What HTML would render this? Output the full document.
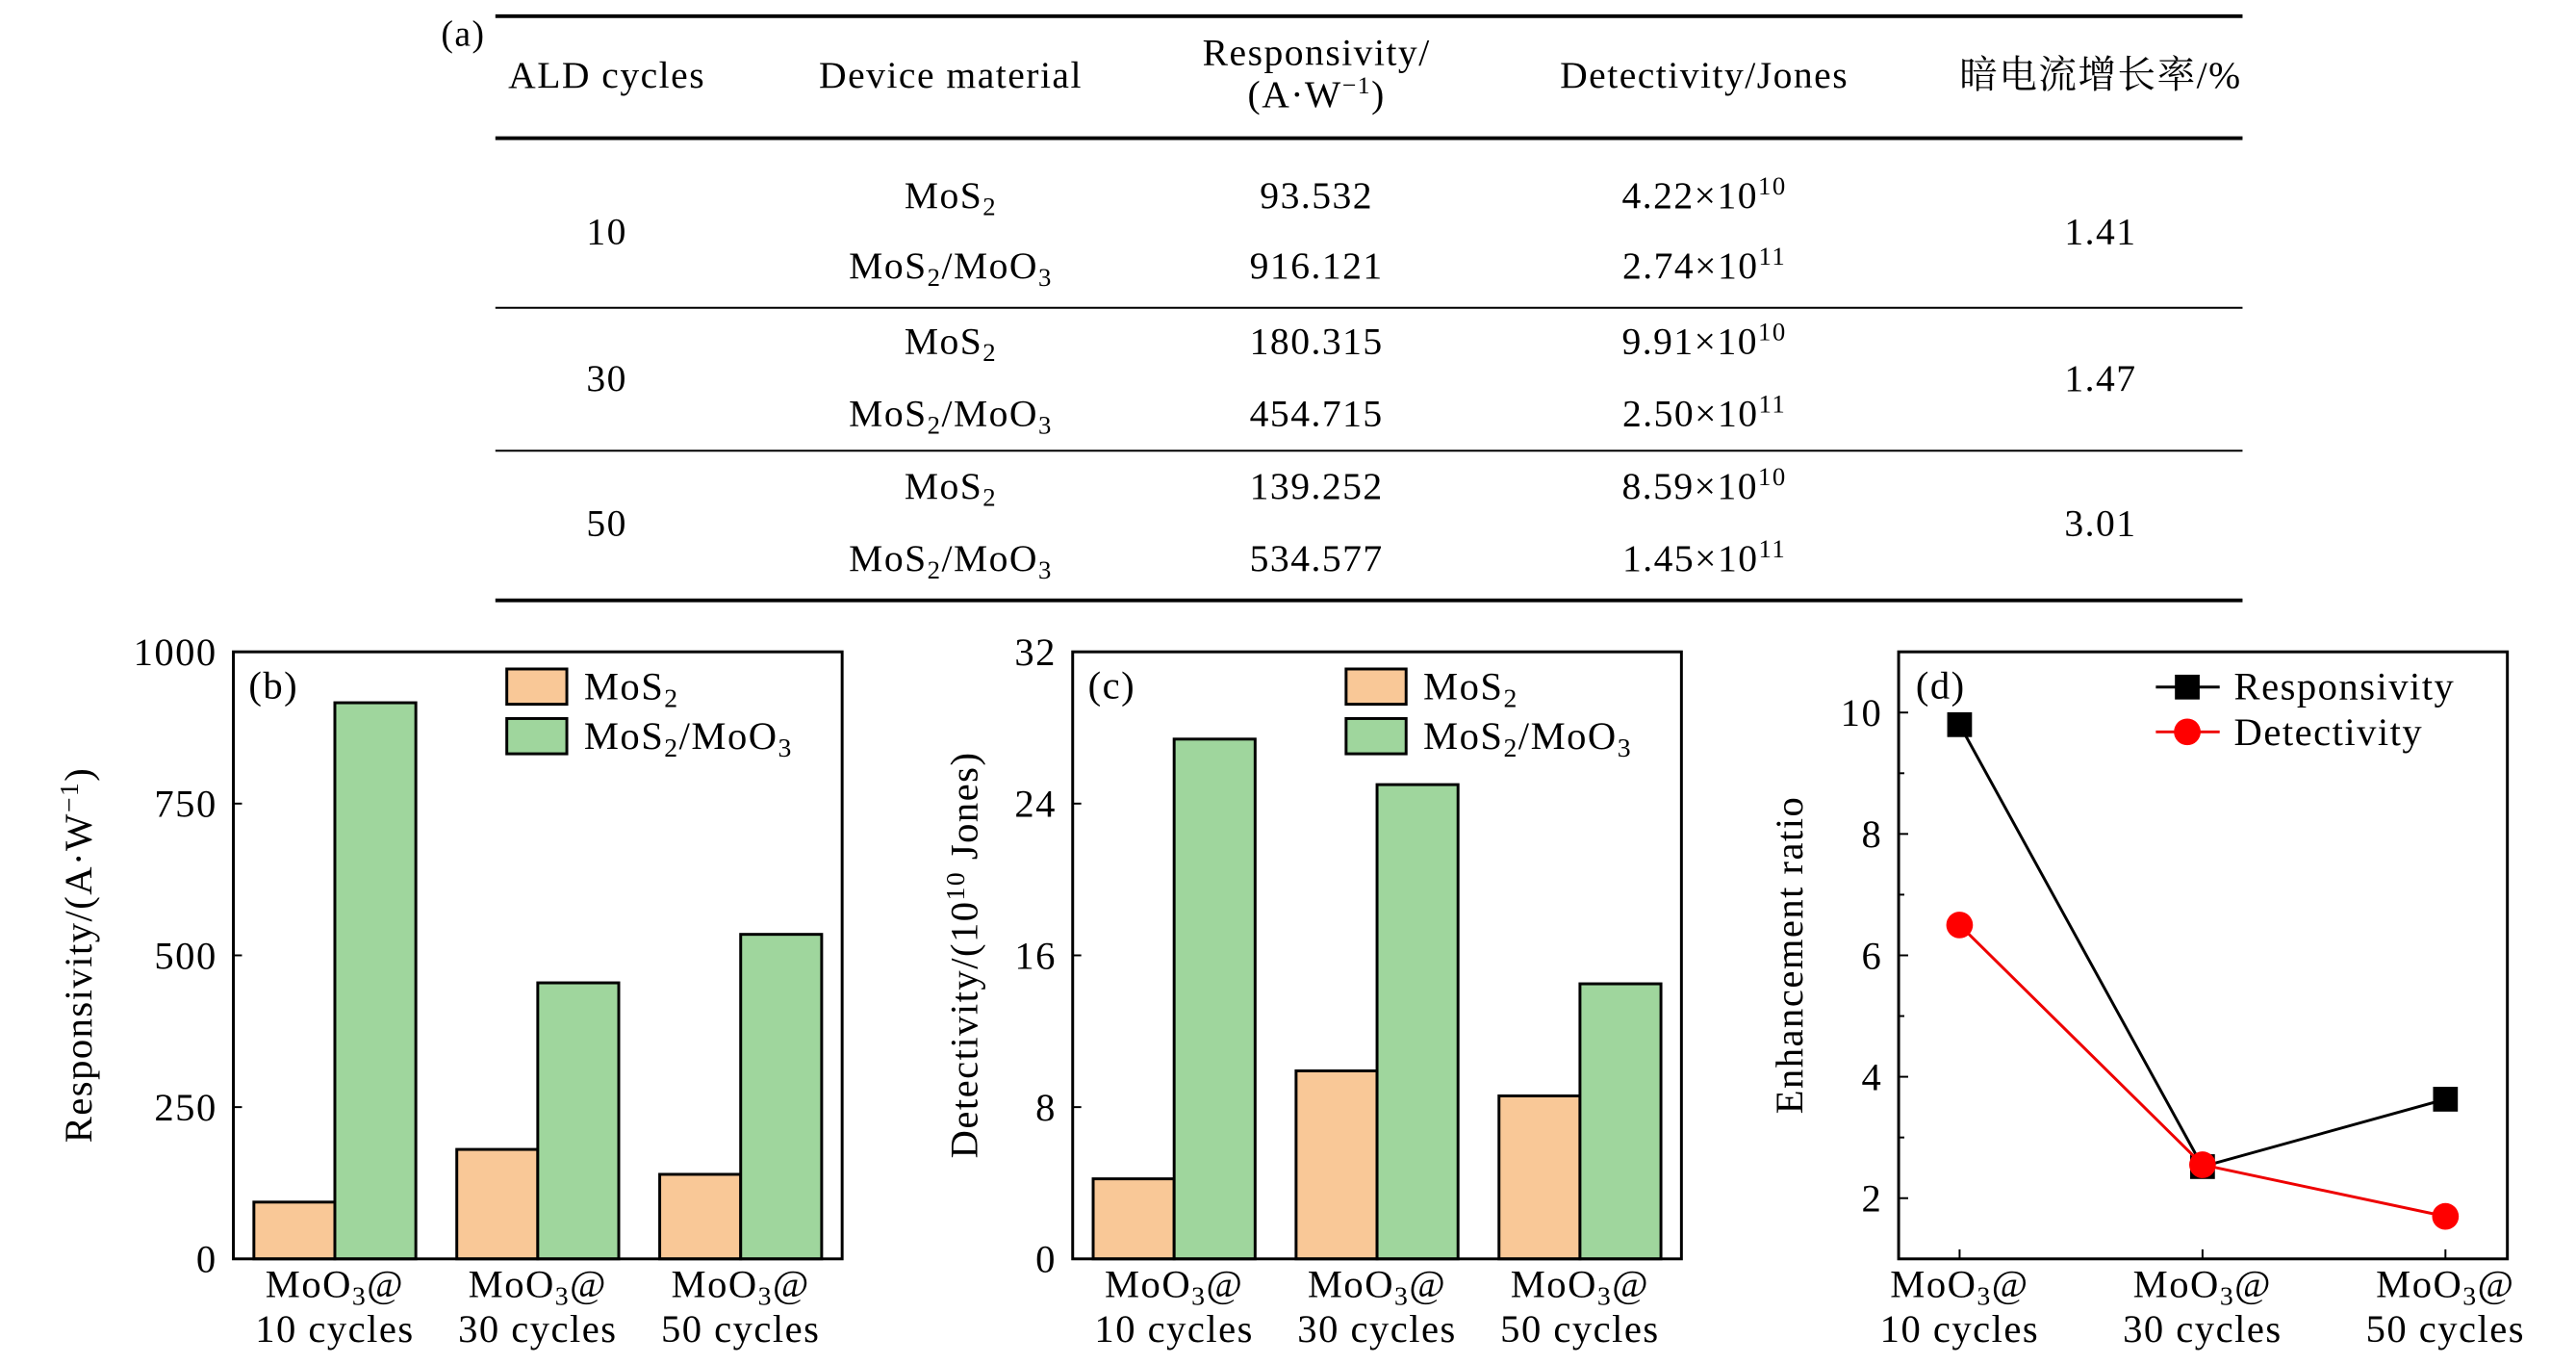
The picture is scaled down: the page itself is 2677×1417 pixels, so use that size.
<!DOCTYPE html>
<html><head><meta charset="utf-8"><style>
html,body{margin:0;padding:0;background:#fff}
svg{display:block}
text{font-family:"Liberation Serif","Noto Serif CJK SC",serif;fill:#000;letter-spacing:1.5px}
</style></head><body>
<svg id="fig" width="2677" height="1417" viewBox="0 0 2677 1417" xmlns="http://www.w3.org/2000/svg">
<g transform="scale(0.99)">
<g id="table" font-size="40">
<text x="463" y="48" font-size="38">(a)</text>
<line x1="520" y1="17" x2="2354" y2="17" stroke="#000" stroke-width="4"/>
<line x1="520" y1="145" x2="2354" y2="145" stroke="#000" stroke-width="4"/>
<line x1="520" y1="323" x2="2354" y2="323" stroke="#000" stroke-width="2"/>
<line x1="520" y1="473" x2="2354" y2="473" stroke="#000" stroke-width="2"/>
<line x1="520" y1="630" x2="2354" y2="630" stroke="#000" stroke-width="4"/>
<g text-anchor="middle">
<text x="637" y="92">ALD cycles</text>
<text x="998" y="92">Device material</text>
<text x="1382" y="68">Responsivity/</text>
<text x="1382" y="112">(A·W<tspan dy="-14" font-size="26">−1</tspan><tspan dy="14">)</tspan></text>
<text x="1789" y="92">Detectivity/Jones</text>
<text x="2205" y="92">暗电流增长率/%</text>
</g>
<g id="rows" text-anchor="middle"></g>
</g>
<g id="chartB"></g>
<g id="chartC"></g>
<g id="chartD"></g>
</g>
</svg>
<script>
const NS="http://www.w3.org/2000/svg";
const tblCycles=["10","30","50"];
const tblResp=[["93.532","916.121"],["180.315","454.715"],["139.252","534.577"]];
const tblDet=[["4.22","10"],["2.74","11"],["9.91","10"],["2.50","11"],["8.59","10"],["1.45","11"]];
const tblDark=["1.41","1.47","3.01"];
const categories=["10 cycles","30 cycles","50 cycles"];
const respMoS2=[93.532,180.315,139.252];
const respHetero=[916.121,454.715,534.577];
const detMoS2=[4.22,9.91,8.59];
const detHetero=[27.4,25.0,14.5];
const ratioResp=[9.8,2.52,3.63];
const ratioDet=[6.5,2.55,1.7];
const ticksB=[0,250,500,750,1000];
const ticksC=[0,8,16,24,32];
const ticksD=[2,4,6,8,10];
const FS=41;

function el(tag,attrs,parent,txt){const e=document.createElementNS(NS,tag);for(const k in attrs)e.setAttribute(k,attrs[k]);if(txt!==undefined)e.textContent=txt;parent.appendChild(e);return e;}

const rows=document.getElementById('rows');
const rowY=[[206,280],[359,435],[511,587]];
for(let i=0;i<3;i++){
  const mid=(rowY[i][0]+rowY[i][1])/2+13;
  let t=el('text',{x:637,y:mid},rows,tblCycles[i]);
  
  
  t=el('text',{x:2205,y:mid},rows,tblDark[i]);
  
  
  for(let j=0;j<2;j++){
    const y=rowY[i][j]+12;
    const m=el('text',{x:998,y:y},rows);
    
    
    m.innerHTML= j==0?'MoS<tspan dy="8" font-size="27">2</tspan>':'MoS<tspan dy="8" font-size="27">2</tspan><tspan dy="-8">/MoO</tspan><tspan dy="8" font-size="27">3</tspan>';
    t=el('text',{x:1382,y:y},rows,tblResp[i][j]);
    
    
    const d=tblDet[i*2+j];
    const dt=el('text',{x:1789,y:y},rows);
    
    
    dt.innerHTML=d[0]+'×10<tspan dy="-14" font-size="27">'+d[1]+'</tspan>';
  }
}

function axisFrame(g,L,R,T,B){const r=el('rect',{x:L,y:T,width:R-L,height:B-T,fill:'none',stroke:'#000','stroke-width':3},g);}
function xLabels(g,xs){
  categories.forEach((c,i)=>{
    const a=el('text',{x:xs[i],y:1361,'text-anchor':'middle','font-size':FS},g);
    a.innerHTML='MoO<tspan dy="8" font-size="28">3</tspan><tspan dy="-8">@</tspan>';
    
    
    const b=el('text',{x:xs[i],y:1408,'text-anchor':'middle','font-size':FS},g,c);
    
    
  });
}

function barChart(id,L,R,ymax,ticks,s1,s2,label,ytitleX,ytitleHTML){
  const g=document.getElementById(id);
  const T=684,B=1321;
  const ys=v=>B-(v/ymax)*(B-T);
  const step=(R-L)/3, bw=85;
  const xs=[];
  for(let i=0;i<3;i++){
    const c=L+step*(i+0.5); xs.push(c);
    let r=el('rect',{x:c-bw,y:ys(s1[i]),width:bw,height:B-ys(s1[i]),fill:'#f9c897',stroke:'#000','stroke-width':3},g);
    
    
    r=el('rect',{x:c,y:ys(s2[i]),width:bw,height:B-ys(s2[i]),fill:'#9fd69d',stroke:'#000','stroke-width':3},g);
    
    
  }
  axisFrame(g,L,R,T,B);
  ticks.forEach(t=>{
    el('line',{x1:L,x2:L+9,y1:ys(t),y2:ys(t),stroke:'#000','stroke-width':2},g);
    const tx=el('text',{x:L-17,y:ys(t)+14,'text-anchor':'end','font-size':FS},g,String(t));
    
    
  });
  xLabels(g,xs);
  const pl=el('text',{x:L+16,y:733,'font-size':FS},g,label);
  
  
  const yt=el('text',{x:0,y:0,'text-anchor':'middle','font-size':FS,transform:`translate(${ytitleX},1002) rotate(-90)`},g);
  yt.innerHTML=ytitleHTML;
  
  
  const lx=L+287;
  let lb=el('rect',{x:lx,y:702,width:63,height:37,fill:'#f9c897',stroke:'#000','stroke-width':3},g);
  
  
  lb=el('rect',{x:lx,y:754,width:63,height:37,fill:'#9fd69d',stroke:'#000','stroke-width':3},g);
  
  
  let lt=el('text',{x:lx+81,y:734,'font-size':FS},g);
  lt.innerHTML='MoS<tspan dy="8" font-size="28">2</tspan>';
  
  
  lt=el('text',{x:lx+81,y:786,'font-size':FS},g);
  lt.innerHTML='MoS<tspan dy="8" font-size="28">2</tspan><tspan dy="-8">/MoO</tspan><tspan dy="8" font-size="28">3</tspan>';
  
  
}
barChart('chartB',245,884,1000,ticksB,respMoS2,respHetero,'(b)',96,'Responsivity/(A·W<tspan dy="-14" font-size="28">−1</tspan><tspan dy="14">)</tspan>');
barChart('chartC',1126,1765,32,ticksC,detMoS2,detHetero,'(c)',1026,'Detectivity/(10<tspan dy="-14" font-size="28">10</tspan><tspan dy="14"> Jones)</tspan>');

(function(){
  const g=document.getElementById('chartD');
  const L=1993,R=2632,T=684,B=1321,ymin=1,ymax=11;
  const ys=v=>B-(v-ymin)/(ymax-ymin)*(B-T);
  const xs=[0,1,2].map(i=>2057+i*255);
  axisFrame(g,L,R,T,B);
  for(let v=1;v<=11;v++){
    const len=v%2==0?10:6;
    el('line',{x1:L,x2:L+len,y1:ys(v),y2:ys(v),stroke:'#000','stroke-width':2},g);
  }
  ticksD.forEach(t=>{
    const tx=el('text',{x:L-17,y:ys(t)+14,'text-anchor':'end','font-size':FS},g,String(t));
    
    
  });
  xs.forEach(x=>el('line',{x1:x,x2:x,y1:B,y2:B-10,stroke:'#000','stroke-width':2},g));
  xLabels(g,xs);
  let p=el('polyline',{points:ratioResp.map((v,i)=>xs[i]+','+ys(v)).join(' '),fill:'none',stroke:'#000','stroke-width':3},g);
  
  
  ratioResp.forEach((v,i)=>{
    const r=el('rect',{x:xs[i]-13,y:ys(v)-13,width:26,height:26,fill:'#000'},g);
    
    
  });
  p=el('polyline',{points:ratioDet.map((v,i)=>xs[i]+','+ys(v)).join(' '),fill:'none',stroke:'#e00','stroke-width':3},g);
  
  
  ratioDet.forEach((v,i)=>{
    const c=el('circle',{cx:xs[i],cy:ys(v),r:14,fill:'#f00'},g);
    
    
  });
  const pl=el('text',{x:L+18,y:733,'font-size':FS},g,'(d)');
  
  
  const yt=el('text',{x:0,y:0,'text-anchor':'middle','font-size':FS,transform:'translate(1892,1002) rotate(-90)'},g,'Enhancement ratio');
  
  
  el('line',{x1:2263,x2:2330,y1:721,y2:721,stroke:'#000','stroke-width':3},g);
  let m=el('rect',{x:2283,y:708,width:26,height:26,fill:'#000'},g);
  
  
  let lt=el('text',{x:2345,y:734,'font-size':FS},g,'Responsivity');
  
  
  el('line',{x1:2263,x2:2330,y1:768,y2:768,stroke:'#e00','stroke-width':3},g);
  m=el('circle',{cx:2296,cy:768,r:14,fill:'#f00'},g);
  
  
  lt=el('text',{x:2345,y:782,'font-size':FS},g,'Detectivity');
  
  
})();
</script>
</body></html>
